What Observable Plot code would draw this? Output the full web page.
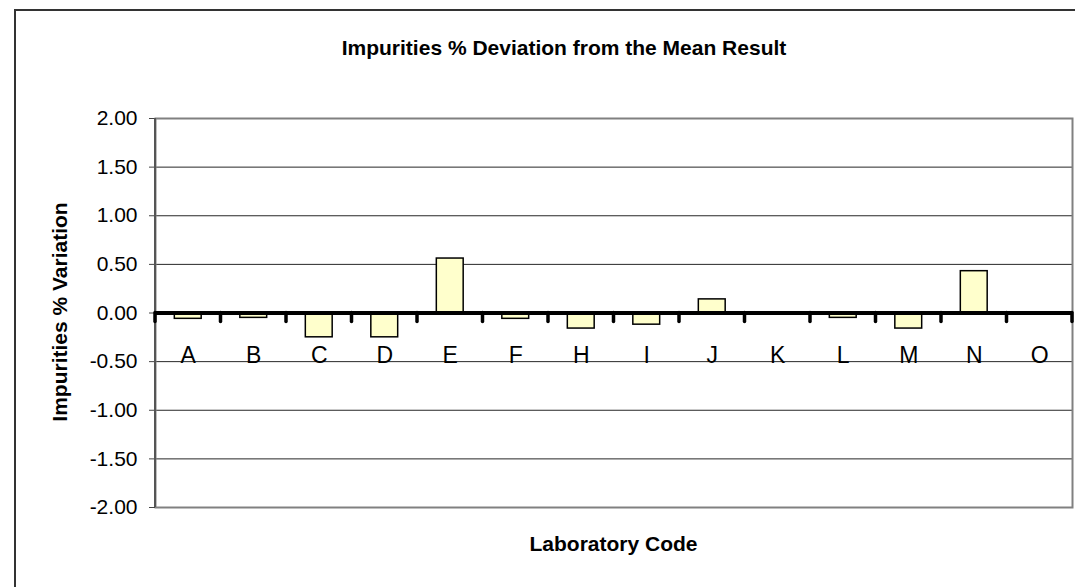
<!DOCTYPE html>
<html>
<head>
<meta charset="utf-8">
<script src="https://cdn.jsdelivr.net/npm/d3@7"></script>
<script src="https://cdn.jsdelivr.net/npm/@observablehq/plot@0.6"></script>
<style>
  html, body { margin: 0; padding: 0; background: #fff; }
  #wrap { position: relative; width: 1075px; height: 587px; overflow: hidden; font-family: "Liberation Sans", Arial, sans-serif; }
  #outer { position: absolute; left: 14px; top: 9px; width: 2000px; height: 2000px; border: 2px solid #333; box-sizing: border-box; }
  #chart { position: absolute; left: 0; top: 0; }
  .ttl { position: absolute; font-weight: bold; font-size: 21px; line-height: 24px; color: #000; white-space: nowrap; }
  #title { left: 0; width: 1128px; top: 36px; text-align: center; }
  #xtitle { left: 155px; width: 917px; top: 532px; text-align: center; }
  #ytitle { left: 60px; top: 312px; transform: translate(-50%, -50%) rotate(-90deg); }
</style>
</head>
<body>
<div id="wrap">
  <div id="outer"></div>
  <div id="chart"></div>
  <div class="ttl" id="title">Impurities % Deviation from the Mean Result</div>
  <div class="ttl" id="ytitle">Impurities % Variation</div>
  <div class="ttl" id="xtitle">Laboratory Code</div>
</div>
<script>
const labs = ["A","B","C","D","E","F","H","I","J","K","L","M","N","O"];
const values = [-0.06, -0.05, -0.25, -0.25, 0.56, -0.06, -0.16, -0.12, 0.14, 0, -0.05, -0.16, 0.43, 0];
const yTicks = [-2, -1.5, -1, -0.5, 0, 0.5, 1, 1.5, 2];

const data = labs.map((lab, i) => ({lab, value: values[i]}));
const padInner = 0.59;

function boundaryTicks(index, scales) {
  const x = scales.x, y = scales.y;
  const step = x.step ? x.step() : x.bandwidth() / (1 - padInner);
  const half = step * padInner / 2;
  const y0 = y(0);
  const xs = labs.map(c => x(c) - half);
  xs.push(x(labs[labs.length - 1]) + x.bandwidth() + half);
  const g = d3.create("svg:g");
  g.append("line")
    .attr("x1", xs[0]).attr("x2", xs[0])
    .attr("y1", y(yTicks[yTicks.length - 1])).attr("y2", y(yTicks[0]))
    .attr("stroke", "#555").attr("stroke-width", 2);
  g.selectAll("line.t").data(xs).join("line").attr("class", "t")
    .attr("x1", d => d).attr("x2", d => d)
    .attr("y1", y0).attr("y2", y0 + 9)
    .attr("stroke", "#000").attr("stroke-width", 3.5).attr("stroke-linecap", "round");
  return g.node();
}

const chart = Plot.plot({
  width: 1075,
  height: 587,
  marginLeft: 155,
  marginRight: 3,
  marginTop: 118,
  marginBottom: 80,
  style: {background: "transparent", fontFamily: "'Liberation Sans', Arial, sans-serif", color: "#000"},
  x: {type: "band", domain: labs, paddingInner: padInner, paddingOuter: padInner / 2, round: false, axis: null},
  y: {domain: [-2, 2], axis: null},
  marks: [
    Plot.gridY(yTicks, {stroke: "#000", strokeOpacity: 0.85, strokeWidth: 1}),
    Plot.frame({stroke: "#808080", strokeWidth: 2}),
    Plot.axisY(yTicks, {
      tickSize: 6, tickPadding: 12, fontSize: 21, stroke: "#444",
      tickFormat: d => d.toFixed(2), label: null
    }),
    Plot.barY(data, {x: "lab", y: "value", fill: "#FFFFCC", stroke: "#000", strokeWidth: 1.5}),
    Plot.ruleY([0], {stroke: "#000", strokeWidth: 4}),
    boundaryTicks,
    Plot.text(data, {x: "lab", y: () => 0, text: "lab", dy: 43, fontSize: 23, fill: "#000"})
  ]
});
document.getElementById("chart").appendChild(chart);
</script>
</body>
</html>
